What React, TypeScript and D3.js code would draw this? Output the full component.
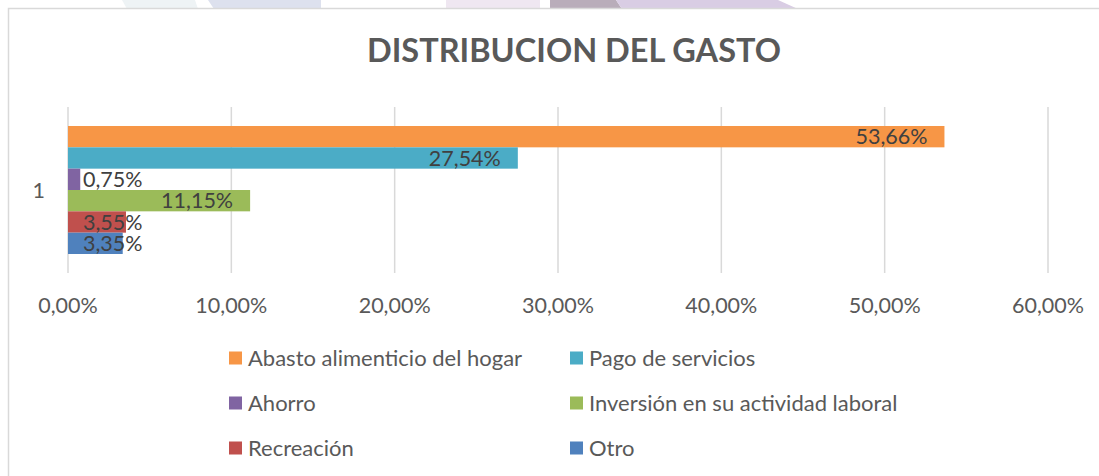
import React, { useMemo } from "react";
import * as d3 from "d3";

const title = "DISTRIBUCION DEL GASTO";
const categories = ["1"];
const seriesNames = [
  "Abasto alimenticio del hogar",
  "Pago de servicios",
  "Ahorro",
  "Inversión en su actividad laboral",
  "Recreación",
  "Otro",
];
const seriesValues = [0.5366, 0.2754, 0.0075, 0.1115, 0.0355, 0.0335];
const seriesColors = ["#F79646", "#4BACC6", "#8064A2", "#9BBB59", "#C0504D", "#4F81BD"];
const xTicks = [0, 0.1, 0.2, 0.3, 0.4, 0.5, 0.6];

const fmt = (v: number) => (v * 100).toFixed(2).replace(".", ",") + "%";

const FONT = "Lato, 'Open Sans', sans-serif";

export default function App() {
  const W = 1099;
  const H = 476;
  const x = d3.scaleLinear().domain([0, 0.6]).range([68, 1048]);
  const y0 = d3
    .scaleBand<string>()
    .domain(categories)
    .range([107, 273])
    .paddingInner(0)
    .paddingOuter(0.1484);
  const y1 = d3
    .scaleBand<string>()
    .domain(seriesNames)
    .range([0, y0.bandwidth()])
    .padding(0);

  const measure = useMemo(() => {
    const c = document.createElement("canvas").getContext("2d");
    return (t: string, size: number) => {
      if (!c) return t.length * size * 0.55;
      c.font = `${size}px Lato`;
      return c.measureText(t).width;
    };
  }, []);

  const labelSize = 21.5;
  const legendSize = 22;
  const deco = [
    { pts: "122,0 195,0 198,9 127,9", fill: "#eef3f5" },
    { pts: "208,0 321,0 321,9 214,9", fill: "#dde1ee" },
    { pts: "446,0 540,0 540,9 446,9", fill: "#efe7f1" },
    { pts: "550,0 616,0 622,9 550,9", fill: "#b9adba" },
    { pts: "616,0 778,0 798,9 622,9", fill: "#d9cde4" },
  ];

  return (
    <svg
      width={W}
      height={H}
      style={{ position: "absolute", left: 0, top: 0, display: "block", background: "#fff" }}
      fontFamily={FONT}
    >
      {deco.map((d, i) => (
        <polygon key={i} points={d.pts} fill={d.fill} />
      ))}
      {/* chart border */}
      <path d={`M8.5,${H} V8.5 H${W}`} fill="none" stroke="#d9d9d9" strokeWidth={1.5} />

      <text
        x={574}
        y={62}
        textAnchor="middle"
        fontSize={32.5}
        fontWeight={700}
        fill="#595959"
      >
        {title}
      </text>

      {/* gridlines */}
      {xTicks.map((t) => (
        <line
          key={t}
          x1={x(t)}
          x2={x(t)}
          y1={107}
          y2={273}
          stroke="#d9d9d9"
          strokeWidth={1.5}
        />
      ))}

      {/* tick labels */}
      {xTicks.map((t) => (
        <text
          key={"l" + t}
          x={x(t)}
          y={313}
          textAnchor="middle"
          fontSize={labelSize}
          fill="#595959"
        >
          {fmt(t)}
        </text>
      ))}

      {/* category label */}
      {categories.map((c) => (
        <text
          key={c}
          x={45}
          y={(y0(c) ?? 0) + y0.bandwidth() / 2 + 7.7}
          textAnchor="end"
          fontSize={labelSize}
          fill="#595959"
        >
          {c}
        </text>
      ))}

      {/* bars */}
      {categories.map((c) => (
        <g key={"g" + c} transform={`translate(0,${y0(c)})`}>
          {seriesNames.map((s, i) => {
            const v = seriesValues[i];
            const by = y1(s) ?? 0;
            return (
              <rect
                key={s}
                x={x(0)}
                y={by}
                width={x(v) - x(0)}
                height={y1.bandwidth()}
                fill={seriesColors[i]}
              />
            );
          })}
          {seriesNames.map((s, i) => {
            const v = seriesValues[i];
            const by = y1(s) ?? 0;
            const label = fmt(v);
            const tw = measure(label, labelSize);
            const end = x(v) - 17;
            const start = Math.max(x(0) + 15, end - tw);
            return (
              <text
                key={"t" + s}
                x={start}
                y={by + y1.bandwidth() / 2 + 7.7}
                fontSize={labelSize}
                fill="#404040"
              >
                {label}
              </text>
            );
          })}
        </g>
      ))}

      {/* legend */}
      {seriesNames.map((s, i) => {
        const col = i % 2;
        const row = Math.floor(i / 2);
        const lx = col === 0 ? 229 : 570;
        const cy = 358 + row * 45;
        return (
          <g key={"lg" + s}>
            <rect x={lx} y={cy - 6.5} width={13} height={13} fill={seriesColors[i]} />
            <text x={lx + 19} y={cy + 7.9} fontSize={legendSize} fill="#595959">
              {s}
            </text>
          </g>
        );
      })}
    </svg>
  );
}
